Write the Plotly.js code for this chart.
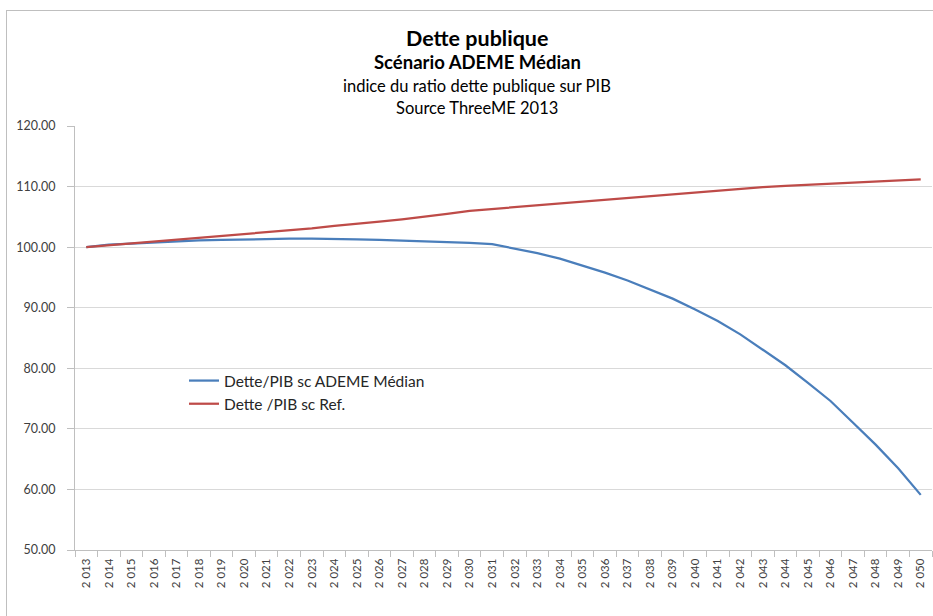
<!DOCTYPE html>
<html>
<head>
<meta charset="utf-8">
<script src="https://cdn.plot.ly/plotly-3.0.1.min.js"></script>
<style>
html,body{margin:0;padding:0;background:#fff;}
#chart{width:933px;height:616px;}
</style>
</head>
<body>
<div id="chart"></div>
<script>
const years = ["2 013","2 014","2 015","2 016","2 017","2 018","2 019","2 020","2 021","2 022",
  "2 023","2 024","2 025","2 026","2 027","2 028","2 029","2 030","2 031","2 032",
  "2 033","2 034","2 035","2 036","2 037","2 038","2 039","2 040","2 041","2 042",
  "2 043","2 044","2 045","2 046","2 047","2 048","2 049","2 050"];

const ademe = [100.0,100.4,100.6,100.8,100.9,101.1,101.2,101.3,101.4,101.4,
  101.4,101.4,101.3,101.2,101.1,101.0,100.8,100.7,100.5,99.8,
  99.0,98.1,97.0,95.8,94.5,93.0,91.5,89.7,87.8,85.6,
  83.1,80.5,77.6,74.6,71.0,67.4,63.5,59.1];

const ref = [100.0,100.3,100.6,100.9,101.2,101.5,101.8,102.1,102.5,102.8,
  103.1,103.5,103.8,104.2,104.6,105.0,105.5,106.0,106.3,106.7,
  107.0,107.3,107.6,107.9,108.2,108.5,108.8,109.1,109.4,109.6,
  109.9,110.1,110.3,110.5,110.7,110.9,111.0,111.2];

const seriesNames = ["Dette/PIB sc ADEME Médian", "Dette /PIB sc Ref."];
const titleLines = ["Dette publique", "Scénario ADEME Médian", "indice du ratio dette publique sur PIB", "Source ThreeME 2013"];

const FONT = "Lato, 'Open Sans', sans-serif";
const W = 933, H = 616, L = 75, R = 1, T = 126, B = 66;
const pw = W - L - R, ph = H - T - B;
const px = x => (x - L) / pw;
const py = y => (H - B - y) / ph;

const traces = [
  {x: years, y: ademe, type: 'scatter', mode: 'lines', name: seriesNames[0],
   line: {color: '#4a7ebb', width: 2.25}},
  {x: years, y: ref, type: 'scatter', mode: 'lines', name: seriesNames[1],
   line: {color: '#be4b48', width: 2.25}}
];

const layout = {
  width: W, height: H,
  margin: {l: L, r: R, t: T, b: B},
  paper_bgcolor: '#fff', plot_bgcolor: '#fff',
  font: {family: FONT, color: '#404040', size: 12},
  showlegend: true,
  legend: {x: px(184), y: py(364), xanchor: 'left', yanchor: 'top',
    bgcolor: 'rgba(0,0,0,0)', font: {family: FONT, size: 15.5, color: '#262626'},
    tracegroupgap: 0, itemwidth: 30},
  xaxis: {type: 'category', showgrid: false, zeroline: false,
    showline: true, linecolor: '#bfbfbf', linewidth: 1,
    ticks: 'outside', ticklen: 6, tickcolor: '#bfbfbf', tickson: 'boundaries',
    tickangle: -90, ticklabelstandoff: 3, tickfont: {family: FONT, size: 11.5, color: '#404040'},
    range: [-0.5, years.length - 0.5], fixedrange: true},
  yaxis: {range: [50, 120], dtick: 10, tick0: 50, tickformat: '.2f',
    showgrid: true, gridcolor: '#d9d9d9', gridwidth: 1, zeroline: false,
    showline: true, linecolor: '#bfbfbf', linewidth: 1,
    ticks: 'outside', ticklen: 7, tickcolor: '#bfbfbf', ticklabelstandoff: 9,
    tickfont: {family: FONT, size: 12.5, color: '#404040'}, fixedrange: true},
  annotations: [
    {text: '<b>' + titleLines[0] + '</b>', x: px(477), y: py(38), xref: 'paper', yref: 'paper',
     showarrow: false, xanchor: 'center', yanchor: 'middle', font: {family: FONT, size: 21.5, color: '#000'}},
    {text: '<b>' + titleLines[1] + '</b>', x: px(477), y: py(62), xref: 'paper', yref: 'paper',
     showarrow: false, xanchor: 'center', yanchor: 'middle', font: {family: FONT, size: 18.5, color: '#000'}},
    {text: titleLines[2], x: px(477), y: py(86), xref: 'paper', yref: 'paper',
     showarrow: false, xanchor: 'center', yanchor: 'middle', font: {family: FONT, size: 16.5, color: '#000'}},
    {text: titleLines[3], x: px(477), y: py(108), xref: 'paper', yref: 'paper',
     showarrow: false, xanchor: 'center', yanchor: 'middle', font: {family: FONT, size: 16.5, color: '#000'}}
  ],
  shapes: [
    {type: 'line', xref: 'paper', yref: 'paper', x0: px(6.5), x1: px(6.5), y0: py(10), y1: py(620),
     line: {color: '#bfbfbf', width: 1}},
    {type: 'line', xref: 'paper', yref: 'paper', x0: px(6.5), x1: px(940), y0: py(10.5), y1: py(10.5),
     line: {color: '#bfbfbf', width: 1}}
  ]
};

Plotly.newPlot('chart', traces, layout, {displayModeBar: false, staticPlot: true});
</script>
</body>
</html>
